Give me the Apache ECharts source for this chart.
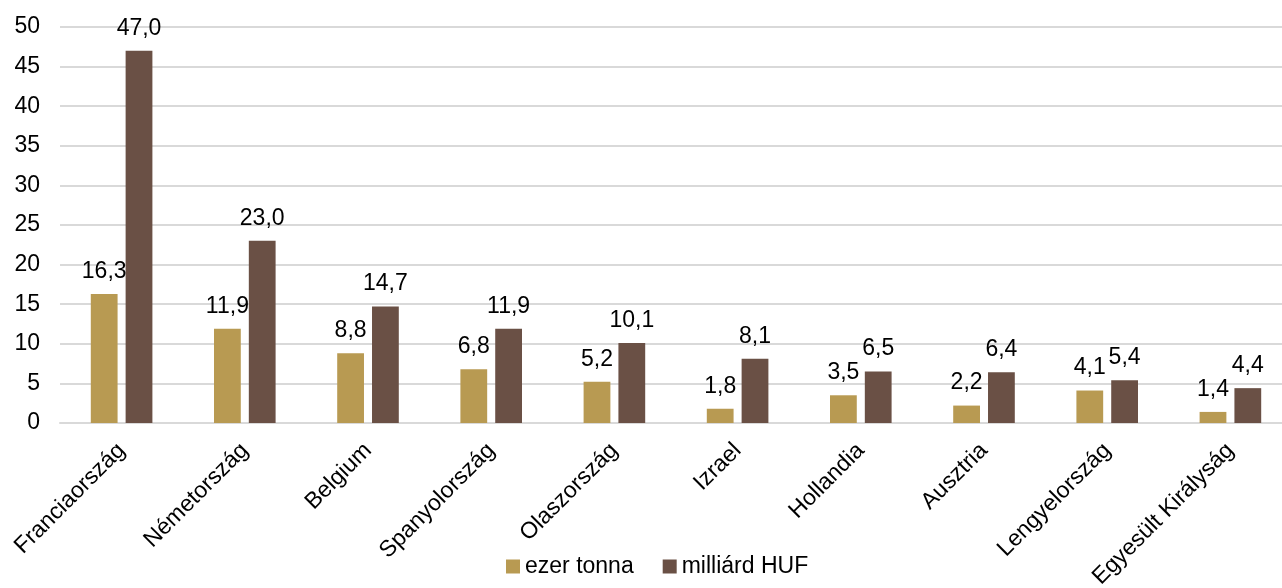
<!DOCTYPE html>
<html>
<head>
<meta charset="utf-8">
<script src="https://cdn.jsdelivr.net/npm/echarts@6/dist/echarts.min.js"></script>
<style>
html,body{margin:0;padding:0;background:#fff;}
#c{width:1282px;height:588px;}
</style>
</head>
<body>
<div id="c"></div>
<script>
const categories = ["Franciaország","Németország","Belgium","Spanyolország","Olaszország","Izrael","Hollandia","Ausztria","Lengyelország","Egyesült Királyság"];
const tonnes = [16.3, 11.9, 8.8, 6.8, 5.2, 1.8, 3.5, 2.2, 4.1, 1.4];
const huf = [47.0, 23.0, 14.7, 11.9, 10.1, 8.1, 6.5, 6.4, 5.4, 4.4];
const seriesNames = ["ezer tonna", "milliárd HUF"];

const font = "Liberation Sans, Arial, sans-serif";
const fmt = p => p.value.toFixed(1).replace('.', ',');
const labelStyle = {show:true, position:'top', distance:11, color:'#000', fontSize:23, fontFamily:font, formatter: fmt};

const chart = echarts.init(document.getElementById('c'));
chart.setOption({
  animation:false,
  grid:{left:60, right:-10, top:27, bottom:165, containLabel:false, outerBoundsMode:'none'},
  legend:{
    bottom:5, left:501, itemWidth:14, itemHeight:14, itemGap:29,
    icon:'rect',
    textStyle:{fontSize:23, fontFamily:font, color:'#000'},
    data: seriesNames
  },
  xAxis:{
    type:'category', data:categories,
    axisLine:{show:true, lineStyle:{color:'#d9d9d9', width:2}},
    axisTick:{show:false},
    axisLabel:{rotate:45, interval:0, fontSize:23, fontFamily:font, color:'#000', margin:24}
  },
  yAxis:{
    type:'value', min:0, max:50, interval:5,
    axisLine:{show:false}, axisTick:{show:false},
    splitLine:{lineStyle:{color:'#d9d9d9', width:2}},
    axisLabel:{fontSize:23, fontFamily:font, color:'#000', margin:20}
  },
  series:[
    {name:seriesNames[0], type:'bar', data:tonnes, barGap:'30%', barCategoryGap:'50%',
     itemStyle:{color:'#B89A52'}, label:labelStyle},
    {name:seriesNames[1], type:'bar', data:huf, barGap:'30%', barCategoryGap:'50%',
     itemStyle:{color:'#6A5045'}, label:labelStyle}
  ]
});
</script>
</body>
</html>
